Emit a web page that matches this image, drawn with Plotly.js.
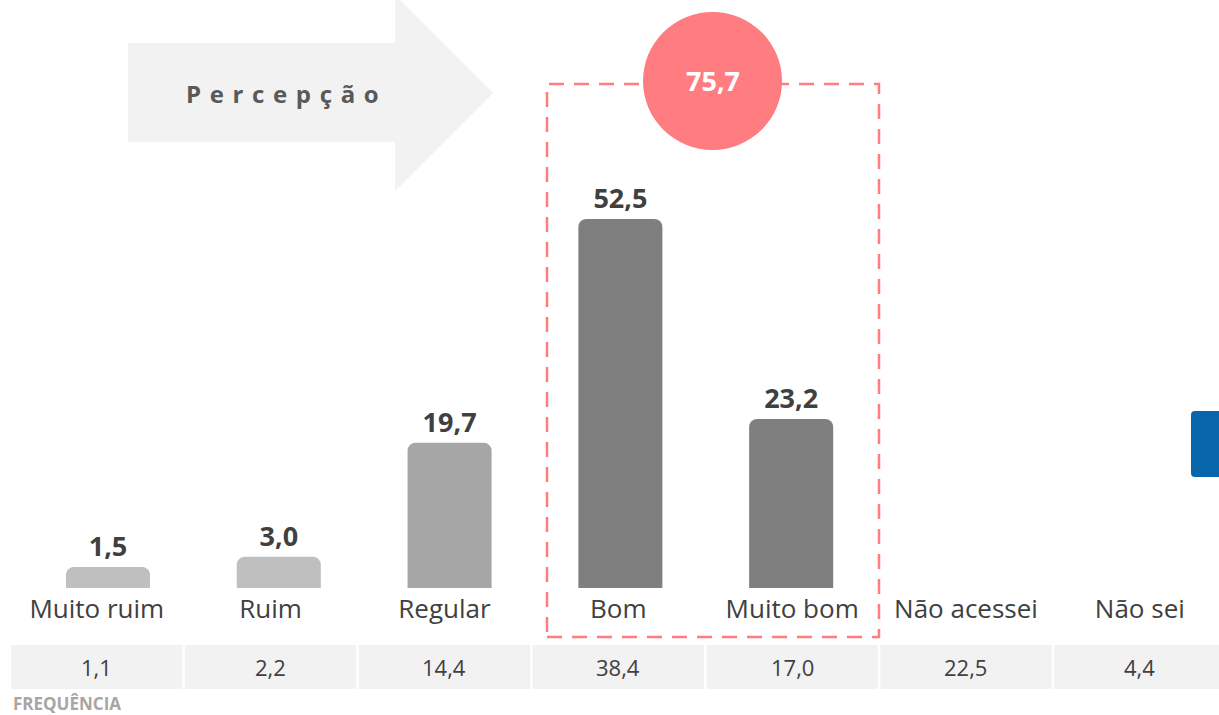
<!DOCTYPE html>
<html>
<head>
<meta charset="utf-8">
<script src="https://cdn.plot.ly/plotly-3.0.1.min.js"></script>
<style>html,body{margin:0;padding:0;background:#fff;}#chart{width:1219px;height:715px;}</style>
</head>
<body>
<div id="chart"></div>
<script>
// ---- data ----
const categories = ['Muito ruim', 'Ruim', 'Regular', 'Bom', 'Muito bom', 'Não acessei', 'Não sei'];
const percepcaoCategories = ['Muito ruim', 'Ruim', 'Regular', 'Bom', 'Muito bom'];
const percepcaoValues = [1.5, 3.0, 19.7, 52.5, 23.2];
const frequenciaValues = [1.1, 2.2, 14.4, 38.4, 17.0, 22.5, 4.4];
const totalPositivo = 75.7;
const arrowLabel = 'Percepção';
const tableLabel = 'FREQUÊNCIA';

// ---- styles ----
const barColors = ['#bfbfbf', '#bfbfbf', '#a6a6a6', '#7f7f7f', '#7f7f7f'];
const FONT = 'Open Sans, Noto Sans, sans-serif';
const TXT = '#404040';
const PINK = '#ff7c80';
const W = 1219, H = 715, PB = 588; // plot bottom pixel
const YMIN = -1.58;   // axis bottom (bars run under the category labels)
const BASE = -6;      // bar base below the visible area, so bottoms are clipped square
const fmt = v => v.toFixed(1).replace('.', ',');
const px = x => x / W;
const py = y => (PB - y) / PB;

const barTrace = {
  type: 'bar',
  x: percepcaoCategories,
  y: percepcaoValues.map(v => v - BASE),
  base: BASE,
  xaxis: 'x2',
  yaxis: 'y',
  width: 0.492,
  marker: {color: barColors, cornerradius: 8, line: {width: 0}},
  text: percepcaoValues.map(fmt),
  textposition: 'outside',
  constraintext: 'none',
  cliponaxis: true,
  textfont: {family: FONT, size: 27, color: TXT, weight: 'bold'},
  hoverinfo: 'skip'
};

const shapes = [];
// arrow
shapes.push({
  type: 'path', xref: 'paper', yref: 'paper', layer: 'below',
  path: `M ${px(128)} ${py(43)} L ${px(395)} ${py(43)} L ${px(395)} ${py(-5)} L ${px(493)} ${py(93)} L ${px(395)} ${py(191)} L ${px(395)} ${py(142)} L ${px(128)} ${py(142)} Z`,
  fillcolor: '#f2f2f2', line: {width: 0}
});
// table cells
frequenciaValues.forEach((v, i) => {
  shapes.push({
    type: 'rect', xref: 'x', yref: 'paper', layer: 'below',
    x0: i - 0.4933, x1: i + 0.4933, y0: py(689), y1: py(645),
    fillcolor: '#f2f2f2', line: {width: 0}
  });
});
// dashed highlight box
shapes.push({
  type: 'rect', xref: 'paper', yref: 'paper',
  x0: px(547), x1: px(879), y0: py(637), y1: py(84),
  fillcolor: 'rgba(0,0,0,0)', line: {color: PINK, width: 2.5, dash: '15px,10px'}
});
// circle
shapes.push({
  type: 'circle', xref: 'paper', yref: 'paper',
  x0: px(643), x1: px(782), y0: py(150), y1: py(12),
  fillcolor: PINK, line: {width: 0}
});
// blue tab
const r = 4;
shapes.push({
  type: 'path', xref: 'paper', yref: 'paper',
  path: `M ${px(1225)} ${py(411)} L ${px(1191 + r)} ${py(411)} Q ${px(1191)} ${py(411)} ${px(1191)} ${py(411 + r)} L ${px(1191)} ${py(477 - r)} Q ${px(1191)} ${py(477)} ${px(1191 + r)} ${py(477)} L ${px(1225)} ${py(477)} Z`,
  fillcolor: '#0665ab', line: {width: 0}
});

const annotations = [];
frequenciaValues.forEach((v, i) => {
  annotations.push({
    xref: 'x', yref: 'paper', x: categories[i], y: py(667),
    text: fmt(v), showarrow: false, xanchor: 'center', yanchor: 'middle',
    font: {family: FONT, size: 22, color: TXT}
  });
});
annotations.push({
  xref: 'paper', yref: 'paper', x: px(11), y: py(703),
  text: tableLabel, showarrow: false, xanchor: 'left', yanchor: 'middle',
  font: {family: FONT, size: 17, color: '#a6a6a6', weight: 'bold'}
});
annotations.push({
  xref: 'paper', yref: 'paper', x: px(282), y: py(93),
  text: arrowLabel.split('').join(' \u200a'), showarrow: false, xanchor: 'center', yanchor: 'middle',
  font: {family: FONT, size: 24, color: '#595959', weight: 'bold'}
});
annotations.push({
  xref: 'paper', yref: 'paper', x: px(713), y: py(81),
  text: fmt(totalPositivo), showarrow: false, xanchor: 'center', yanchor: 'middle',
  font: {family: FONT, size: 27, color: '#ffffff', weight: 'bold'}
});

const layout = {
  width: W, height: H,
  margin: {l: 0, r: 0, t: 0, b: H - PB, pad: 0},
  paper_bgcolor: '#ffffff', plot_bgcolor: '#ffffff',
  showlegend: false,
  xaxis: {
    type: 'category', categoryorder: 'array', categoryarray: categories,
    range: [-0.5568, 6.4554], showgrid: false, zeroline: false, showline: false,
    ticks: '', ticklabelstandoff: 3,
    tickfont: {family: FONT, size: 26, color: TXT}, fixedrange: true
  },
  xaxis2: {
    type: 'category', categoryorder: 'array', categoryarray: categories,
    overlaying: 'x', anchor: 'y',
    range: [-0.6323, 6.505], showgrid: false, zeroline: false, showline: false,
    showticklabels: false, ticks: '', fixedrange: true
  },
  yaxis: {range: [YMIN, 84.58], visible: false, showgrid: false, zeroline: false, fixedrange: true},
  shapes: shapes,
  annotations: annotations
};

Plotly.newPlot('chart', [barTrace], layout, {staticPlot: true, displayModeBar: false});
</script>
</body>
</html>
